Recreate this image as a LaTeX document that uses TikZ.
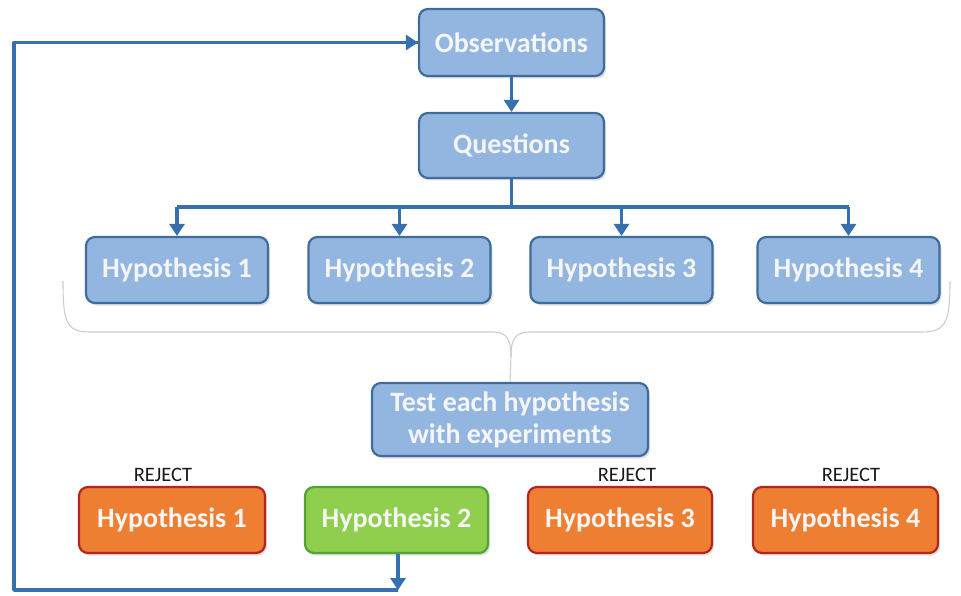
\documentclass[tikz,border=0pt]{standalone}
\usepackage{fontspec}
\setmainfont{Carlito}
\usetikzlibrary{arrows.meta,shadows}
\definecolor{bfill}{HTML}{93B6E0}
\definecolor{bdraw}{HTML}{3E6C9C}
\definecolor{lineblue}{HTML}{3670AE}
\definecolor{ofill}{HTML}{EE7F32}
\definecolor{odraw}{HTML}{B3261E}
\definecolor{gfill}{HTML}{90CF4E}
\definecolor{gdraw}{HTML}{52A534}
\definecolor{bracecol}{HTML}{C9CED4}
\tikzset{
  box/.style={rounded corners=9pt, line width=2.2pt, inner sep=0pt,
    minimum height=66pt, font=\fontsize{28}{32}\selectfont\bfseries,
    text=white!96!black, align=center,
    drop shadow={opacity=0.25, shadow xshift=2pt, shadow yshift=-2.5pt}},
  bluebox/.style={box, fill=bfill, draw=bdraw},
  orangebox/.style={box, fill=ofill, draw=odraw},
  greenbox/.style={box, fill=gfill, draw=gdraw},
  conn/.style={draw=lineblue, line width=3.6pt, line join=round},
  arr/.style={conn, -{Triangle[length=12pt,width=15pt]}},
  rejlabel/.style={font=\fontsize{20.5}{22}\selectfont, text=black!90, inner sep=0pt}
}
\begin{document}
\begin{tikzpicture}[x=1pt,y=-1pt]
\useasboundingbox (0,0) rectangle (961,596);
% top boxes
\node[bluebox, minimum width=185pt, minimum height=67pt] (obs) at (511.5,42.5) {Observations};
\node[bluebox, minimum width=185pt, minimum height=65pt] (que) at (511.5,145.5) {Questions};
% hypotheses row 1
\node[bluebox, minimum width=182pt] (ha1) at (177,270) {Hypothesis 1};
\node[bluebox, minimum width=182pt] (ha2) at (399.5,270) {Hypothesis 2};
\node[bluebox, minimum width=182pt] (ha3) at (621.5,270) {Hypothesis 3};
\node[bluebox, minimum width=182pt] (ha4) at (848.5,270) {Hypothesis 4};
% test
\node[bluebox, minimum width=276pt, minimum height=73pt, font=\fontsize{28}{32}\selectfont\bfseries] (test) at (510,419.5) {Test each hypothesis\\with experiments};
% hypotheses row 2
\node[orangebox, minimum width=186pt] (hb1) at (172,520) {Hypothesis 1};
\node[greenbox, minimum width=183pt] (hb2) at (396.5,520) {Hypothesis 2};
\node[orangebox, minimum width=184pt] (hb3) at (620,520) {Hypothesis 3};
\node[orangebox, minimum width=185pt] (hb4) at (845.5,520) {Hypothesis 4};
% reject labels
\node[rejlabel] (r1) at (163,475) {REJECT};
\node[rejlabel] (r3) at (627,475) {REJECT};
\node[rejlabel] (r4) at (851,475) {REJECT};
% connectors
\draw[arr] (obs.south) -- (que.north);
\coordinate (split) at (511.5,207);
\coordinate (s1) at (177,207);
\coordinate (s2) at (399.5,207);
\coordinate (s3) at (621.5,207);
\coordinate (s4) at (848.5,207);
\draw[conn] (que.south) -- (split);
\draw[conn] (s1) -- (s4);
\draw[arr] (s1) -- (ha1.north);
\draw[arr] (s2) -- (ha2.north);
\draw[arr] (s3) -- (ha3.north);
\draw[arr] (s4) -- (ha4.north);
% feedback loop
\coordinate (fb1) at (398,590);
\coordinate (fb2) at (14,590);
\draw[conn] (fb1) -- (fb2) |- (obs.west);
\draw[arr] (fb2 |- obs.west) -- (obs.west);
\draw[arr] (hb2.south -| fb1) -- (fb1);
% brace
\draw[bracecol, line width=1.1pt]
  (63,281) .. controls (63,322) and (66,332) .. (90,332)
  -- (492,332) .. controls (506,332) and (511,338) .. (511,356)
  -- (test.north);
\draw[bracecol, line width=1.1pt]
  (950,281) .. controls (950,322) and (946,332) .. (922,332)
  -- (530,332) .. controls (516,332) and (511,338) .. (511,356);
\end{tikzpicture}
\end{document}
